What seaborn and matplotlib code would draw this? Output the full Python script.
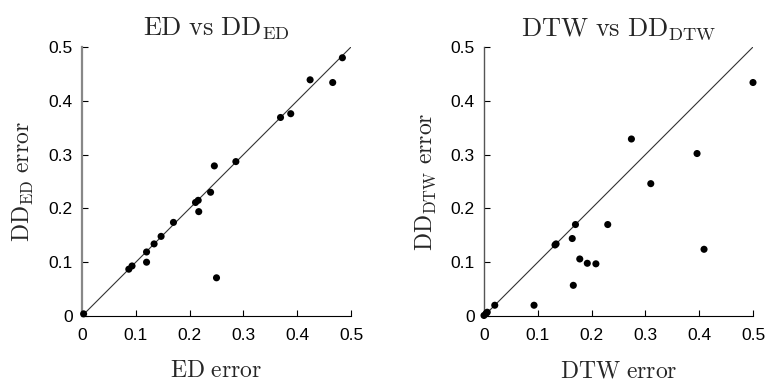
import matplotlib
matplotlib.use("Agg")
import matplotlib.pyplot as plt
import seaborn as sns
import numpy as np
import pandas as pd
from matplotlib.ticker import FixedLocator, FuncFormatter

# Data: left panel (ED vs DD_ED)
ed_err = [0.003, 0.087, 0.093, 0.120, 0.120, 0.134, 0.147, 0.170, 0.211, 0.216,
          0.217, 0.239, 0.246, 0.250, 0.286, 0.369, 0.388, 0.424, 0.466, 0.484]
dd_ed_err = [0.004, 0.087, 0.093, 0.119, 0.100, 0.134, 0.148, 0.174, 0.211, 0.215,
             0.194, 0.230, 0.279, 0.071, 0.287, 0.369, 0.376, 0.439, 0.434, 0.480]

# Data: right panel (DTW vs DD_DTW)
dtw_err = [0.000, 0.004, 0.006, 0.020, 0.093, 0.132, 0.134, 0.164, 0.166, 0.170,
           0.178, 0.192, 0.208, 0.230, 0.274, 0.310, 0.396, 0.409, 0.500]
dd_dtw_err = [0.001, 0.005, 0.007, 0.020, 0.020, 0.132, 0.134, 0.144, 0.057, 0.170,
              0.106, 0.098, 0.097, 0.170, 0.329, 0.246, 0.302, 0.124, 0.434]

ticks = [0, 0.1, 0.2, 0.3, 0.4, 0.5]
tick_labels = ["0", "0.1", "0.2", "0.3", "0.4", "0.5"]

sns.set_style("ticks")
plt.rcParams['font.family'] = ['Liberation Sans', 'DejaVu Sans']
plt.rcParams['mathtext.fontset'] = 'cm'

fig = plt.figure(figsize=(7.67, 3.84), dpi=100)
ax1 = fig.add_axes([82/767, 68/384, 269/767, 269/384])
ax2 = fig.add_axes([484/767, 68/384, 269/767, 269/384])

panels = [
    (ax1, ed_err, dd_ed_err, r"$\mathrm{ED\ vs\ DD_{ED}}$", r"$\mathrm{ED\ error}$", r"$\mathrm{DD_{ED}\ error}$", "#888888", 1.6),
    (ax2, dtw_err, dd_dtw_err, r"$\mathrm{DTW\ vs\ DD_{DTW}}$", r"$\mathrm{DTW\ error}$", r"$\mathrm{DD_{DTW}\ error}$", "#555555", 1.0),
]

for ax, xs, ys, title, xl, yl, lcol, lw in panels:
    df = pd.DataFrame({"x": xs, "y": ys})
    ax.plot([0, 0.5], [0, 0.5], color="#333333", lw=0.8, zorder=1)
    sns.scatterplot(data=df, x="x", y="y", ax=ax, color="black", s=26,
                    edgecolor="none", linewidth=0, zorder=3, clip_on=False)
    ax.set_xlim(0, 0.5)
    ax.set_ylim(0, 0.5)
    ax.xaxis.set_major_locator(FixedLocator(ticks))
    ax.yaxis.set_major_locator(FixedLocator(ticks))
    ax.set_xticklabels(tick_labels)
    ax.set_yticklabels(tick_labels)
    ax.tick_params(direction="in", length=4, width=0.8, labelsize=12.5,
                   colors="black")
    ax.tick_params(axis="x", pad=9)
    ax.tick_params(axis="y", pad=6.5)
    ax.spines["top"].set_visible(False)
    ax.spines["right"].set_visible(False)
    ax.spines["left"].set_color(lcol)
    ax.spines["left"].set_linewidth(lw)
    ax.spines["bottom"].set_color("black")
    ax.spines["bottom"].set_linewidth(0.8)
    ax.set_title(title, fontsize=19, pad=8)
    ax.set_xlabel(xl, fontsize=17, labelpad=12)
    ax.set_ylabel(yl, fontsize=17, labelpad=9)

fig.savefig("out.png", dpi=100)
